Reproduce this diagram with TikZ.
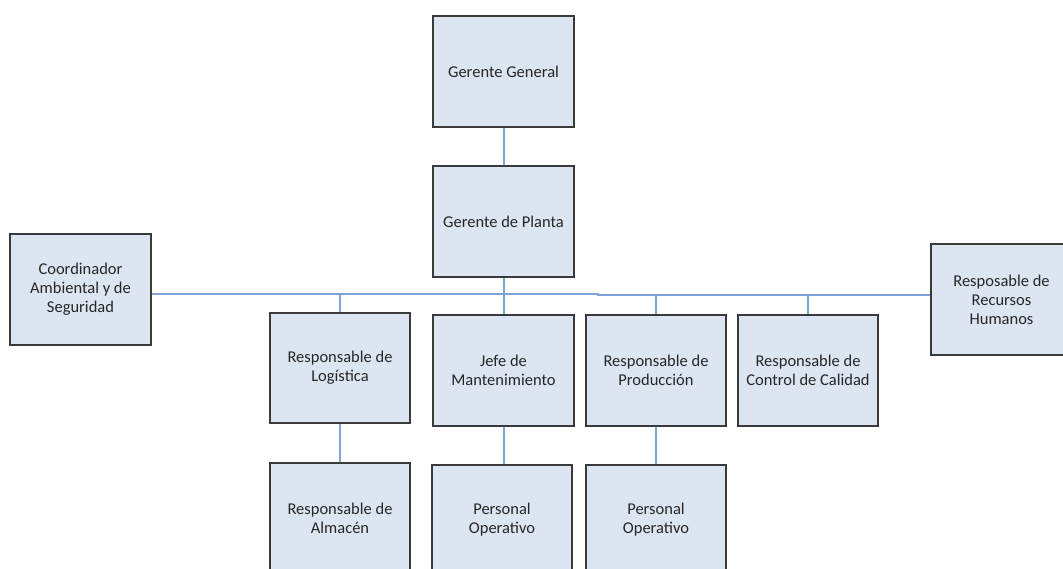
\documentclass[tikz,border=0pt]{standalone}
\usepackage{fontspec}
\setmainfont{Carlito}
\definecolor{boxfill}{HTML}{DCE6F2}
\definecolor{boxdraw}{HTML}{3A3A3A}
\definecolor{linkcol}{HTML}{7FA3D6}
\begin{document}
\begin{tikzpicture}[x=1pt,y=-1pt,
  lbl/.style={align=center,font=\fontsize{16.5}{19}\selectfont,text=black!85},
  unit/.style={lbl,draw=boxdraw,line width=1.6pt,fill=boxfill,minimum width=141pt,minimum height=111pt,
    inner sep=0pt},
  tall/.style={unit,minimum height=160pt},
  link/.style={draw=linkcol,line width=1.6pt}]
\useasboundingbox (0,0) rectangle (1063,568);
\clip (0,0) rectangle (1063,568);
\node[unit] (gg) at (503.5,71.5) {Gerente General};
\node[unit] (gp) at (503.5,221.5) {Gerente de Planta};
\node[unit] (ca) at (80.5,289.5) {Coordinador\\Ambiental y de\\Seguridad};
\node[unit] (rh) at (1001.5,299.5) {Resposable de\\Recursos\\Humanos};
\node[unit,minimum width=140pt,minimum height=110pt] (lo) at (340,368) {Responsable de\\Logística};
\node[unit] (jm) at (503.5,370.5) {Jefe de\\Mantenimiento};
\node[unit,minimum width=140pt] (pr) at (656,370.5) {Responsable de\\Producción};
\node[unit,minimum width=140pt] (cc) at (808,370.5) {Responsable de\\Control de Calidad};
\node[tall,minimum width=140pt] (al) at (340,543) {};
\node[tall,minimum width=140pt] (po1) at (502,545) {};
\node[tall,minimum width=140pt] (po2) at (656,545) {};
\node[lbl] (alt) at (340,518) {Responsable de\\Almacén};
\node[lbl] (po1t) at (502,520) {Personal\\Operativo};
\node[lbl] (po2t) at (656,520) {Personal\\Operativo};
\coordinate (vx) at (504,0);
\coordinate (bl) at (lo.north |- 0,294);
\coordinate (bs) at (598,294);
\coordinate (bs2) at (598,295);
\coordinate (bp) at (pr.north |- 0,295);
\coordinate (bc) at (cc.north |- 0,295);
\draw[link] (vx |- gg.south) -- (vx |- gp.north);
\draw[link] (ca.east |- bs) -- (bs) -- (bs2) -- (rh.west |- bs2);
\draw[link] (vx |- gp.south) -- (vx |- jm.north);
\draw[link] (bl) -- (lo.north);
\draw[link] (bp) -- (pr.north);
\draw[link] (bc) -- (cc.north);
\draw[link] (lo.south) -- (al.north);
\draw[link] (vx |- jm.south) -- (vx |- po1.north);
\draw[link] (pr.south) -- (po2.north);
\end{tikzpicture}
\end{document}
